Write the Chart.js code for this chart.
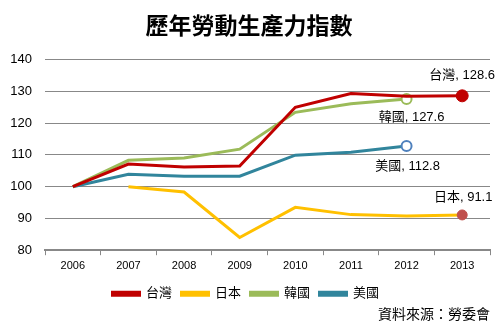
<!DOCTYPE html>
<html>
<head>
<meta charset="utf-8">
<script src="https://cdn.jsdelivr.net/npm/chart.js@4"></script>
<style>
  html, body { margin: 0; padding: 0; background: #fff; }
  #wrap { width: 504px; height: 330px; }
</style>
</head>
<body>
<div id="wrap"><canvas id="grafico"></canvas></div>
<script>
(()=>{
const years = ['2006', '2007', '2008', '2009', '2010', '2011', '2012', '2013'];
const taiwan = [100, 107.1, 106.2, 106.5, 125.0, 129.3, 128.5, 128.6];
const japan  = [null, 100, 98.3, 84.0, 93.5, 91.2, 90.8, 91.1];
const korea  = [100, 108.3, 109.0, 111.8, 123.4, 126.1, 127.6, null];
const usa    = [100, 103.9, 103.3, 103.3, 109.9, 110.8, 112.8, null];
const yTicks = [80, 90, 100, 110, 120, 130, 140];

const cjk = '"Liberation Sans", "Noto Sans CJK TC", sans-serif';

// 只在最後一個點畫圓點
const lastOnly = (arr, r) => ctx => {
    let last = -1;
    arr.forEach((v, i) => { if (v !== null) last = i; });
    return ctx.dataIndex === last ? r : 0;
};

const serie = (label, data, color, dot) => ({
    label,
    data,
    borderColor: color,
    backgroundColor: color,
    borderWidth: 3,
    tension: 0,
    pointRadius: lastOnly(data, dot.r),
    pointHoverRadius: lastOnly(data, dot.r),
    pointBackgroundColor: dot.fill,
    pointBorderColor: dot.border,
    pointBorderWidth: dot.bw,
    endLabel: dot.label
});

// 終點數值標籤
const endLabels = {
    id: 'endLabels',
    afterDatasetsDraw(chart) {
        const c = chart.ctx;
        c.save();
        c.font = '13px ' + cjk;
        c.fillStyle = '#000';
        c.textAlign = 'center';
        c.textBaseline = 'middle';
        chart.data.datasets.forEach((ds, i) => {
            const meta = chart.getDatasetMeta(i);
            let last = -1;
            ds.data.forEach((v, j) => { if (v !== null) last = j; });
            const pt = meta.data[last];
            c.fillText(ds.label + ', ' + ds.data[last], pt.x + ds.endLabel.dx, pt.y + ds.endLabel.dy);
        });
        c.restore();
    }
};

new Chart(document.getElementById('grafico'), {
    type: 'line',
    data: {
        labels: years,
        datasets: [
            serie('台灣', taiwan, '#c00000', { r: 6, fill: '#c00000', border: '#c00000', bw: 1, label: { dx: 0, dy: -20 } }),
            serie('日本', japan, '#ffc000', { r: 5, fill: '#c0504d', border: '#c0504d', bw: 1, label: { dx: 1, dy: -18 } }),
            serie('韓國', korea, '#9bbb59', { r: 5, fill: '#fff', border: '#9bbb59', bw: 2, label: { dx: 5, dy: 18 } }),
            serie('美國', usa, '#31859c', { r: 5, fill: '#fff', border: '#4f81bd', bw: 2, label: { dx: 1, dy: 20 } })
        ]
    },
    options: {
        responsive: true,
        maintainAspectRatio: false,
        animation: false,
        layout: { padding: { left: 8, right: 14, top: 0, bottom: 0 } },
        plugins: {
            title: {
                display: true,
                text: '歷年勞動生產力指數',
                color: '#000',
                font: { family: '"Noto Sans CJK TC", serif', size: 23, weight: 'bold' },
                padding: { top: 11, bottom: 21 }
            },
            subtitle: {
                display: true,
                text: '資料來源：勞委會',
                position: 'bottom',
                align: 'end',
                color: '#000',
                font: { family: '"Noto Sans CJK TC", serif', size: 14 },
                padding: { top: -5, bottom: 8 }
            },
            legend: {
                position: 'bottom',
                labels: {
                    boxWidth: 27,
                    boxHeight: 3,
                    color: '#000',
                    padding: 3,
                    font: { family: cjk, size: 13 },
                    // 圖例文字後補空白，拉開項目間距
                    generateLabels: chart => Chart.defaults.plugins.legend.labels.generateLabels(chart)
                        .map(item => Object.assign(item, { text: item.text + '\u2002' }))
                }
            },
            tooltip: { enabled: false }
        },
        scales: {
            x: {
                offset: true,
                afterFit: s => { s.height = 34; },
                grid: { offset: true, drawOnChartArea: false, drawTicks: true, tickLength: 5, color: '#888' },
                border: { display: true, color: '#888', width: 2 },
                ticks: { color: '#000', font: { family: 'Liberation Sans', size: 11 }, padding: 4 }
            },
            y: {
                min: 80,
                max: 140,
                afterBuildTicks: s => { s.ticks = yTicks.map(v => ({ value: v })); },
                afterFit: s => { s.width = 37; },
                grid: { drawTicks: false, color: '#888' },
                border: { display: false },
                ticks: { color: '#000', font: { family: 'Liberation Sans', size: 13 }, padding: 13 }
            }
        }
    },
    plugins: [endLabels]
});
})();
</script>
</body>
</html>
